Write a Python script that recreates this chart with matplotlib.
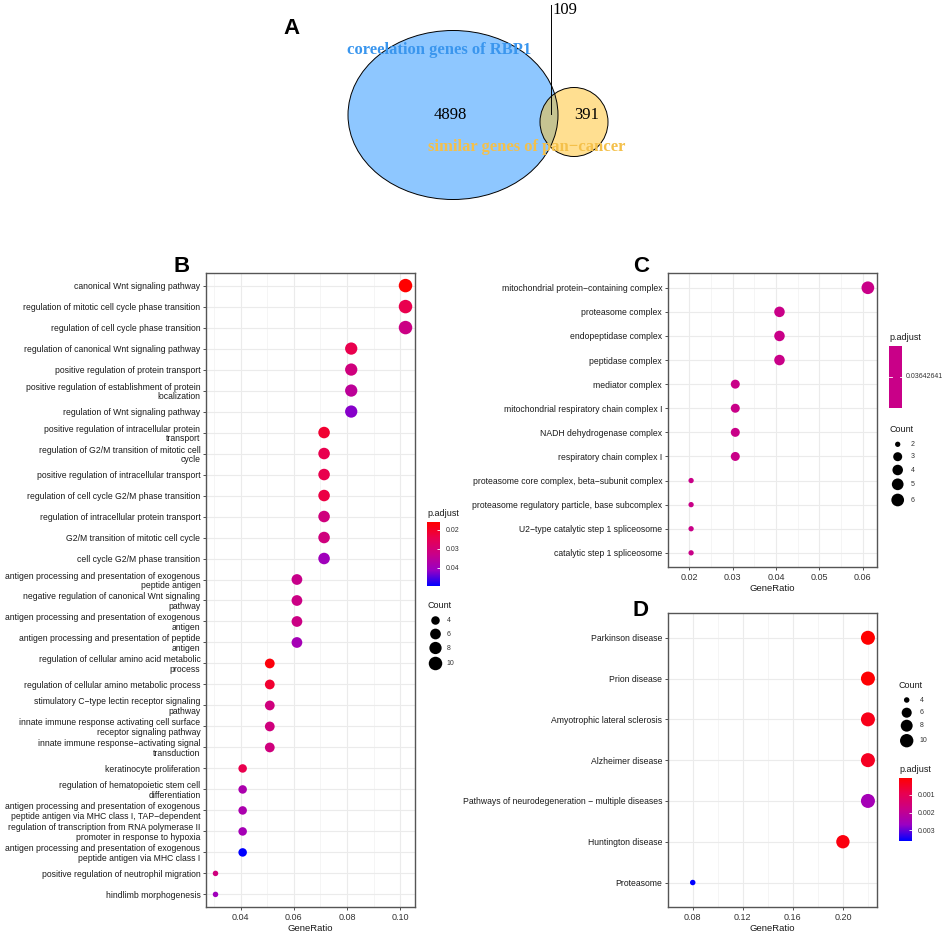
import numpy as np
import matplotlib
matplotlib.use('Agg')
import matplotlib.pyplot as plt
from matplotlib.colors import LinearSegmentedColormap, Normalize
from matplotlib.cm import ScalarMappable
from matplotlib.patches import Ellipse, Rectangle

plt.rcParams['font.family'] = ['Liberation Sans', 'DejaVu Sans']

W, H = 945, 934

# ---- Panel A: Venn ----
venn_left_only = 4898
venn_both = 109
venn_right_only = 391
venn_left_name = 'coreelation genes of RBP1'
venn_right_name = 'similar genes of pan\u2212cancer'

# ---- Panel B: GO biological process ----
bp_terms = [
    'canonical Wnt signaling pathway',
    'regulation of mitotic cell cycle phase transition',
    'regulation of cell cycle phase transition',
    'regulation of canonical Wnt signaling pathway',
    'positive regulation of protein transport',
    'positive regulation of establishment of protein\nlocalization',
    'regulation of Wnt signaling pathway',
    'positive regulation of intracellular protein\ntransport',
    'regulation of G2/M transition of mitotic cell\ncycle',
    'positive regulation of intracellular transport',
    'regulation of cell cycle G2/M phase transition',
    'regulation of intracellular protein transport',
    'G2/M transition of mitotic cell cycle',
    'cell cycle G2/M phase transition',
    'antigen processing and presentation of exogenous\npeptide antigen',
    'negative regulation of canonical Wnt signaling\npathway',
    'antigen processing and presentation of exogenous\nantigen',
    'antigen processing and presentation of peptide\nantigen',
    'regulation of cellular amino acid metabolic\nprocess',
    'regulation of cellular amino metabolic process',
    'stimulatory C\u2212type lectin receptor signaling\npathway',
    'innate immune response activating cell surface\nreceptor signaling pathway',
    'innate immune response\u2212activating signal\ntransduction',
    'keratinocyte proliferation',
    'regulation of hematopoietic stem cell\ndifferentiation',
    'antigen processing and presentation of exogenous\npeptide antigen via MHC class I, TAP\u2212dependent',
    'regulation of transcription from RNA polymerase II\npromoter in response to hypoxia',
    'antigen processing and presentation of exogenous\npeptide antigen via MHC class I',
    'positive regulation of neutrophil migration',
    'hindlimb morphogenesis',
]
bp_ratio = [0.102, 0.102, 0.102, 0.0816, 0.0816, 0.0816, 0.0816,
            0.0714, 0.0714, 0.0714, 0.0714, 0.0714, 0.0714, 0.0714,
            0.0612, 0.0612, 0.0612, 0.0612,
            0.051, 0.051, 0.051, 0.051, 0.051,
            0.0408, 0.0408, 0.0408, 0.0408, 0.0408,
            0.0306, 0.0306]
bp_count = [10, 10, 10, 8, 8, 8, 8, 7, 7, 7, 7, 7, 7, 7,
            6, 6, 6, 6, 5, 5, 5, 5, 5, 4, 4, 4, 4, 4, 3, 3]
bp_padj = [0.0158, 0.024, 0.032, 0.024, 0.031, 0.035, 0.042,
           0.021, 0.024, 0.024, 0.023, 0.031, 0.031, 0.040,
           0.033, 0.032, 0.032, 0.039,
           0.017, 0.021, 0.031, 0.031, 0.031,
           0.024, 0.038, 0.038, 0.039, 0.0495,
           0.031, 0.040]
bp_xticks = [0.04, 0.06, 0.08, 0.10]
bp_count_keys = [4, 6, 8, 10]
bp_padj_ticks = [0.02, 0.03, 0.04]

# ---- Panel C: GO cellular component ----
cc_terms = [
    'mitochondrial protein\u2212containing complex',
    'proteasome complex',
    'endopeptidase complex',
    'peptidase complex',
    'mediator complex',
    'mitochondrial respiratory chain complex I',
    'NADH dehydrogenase complex',
    'respiratory chain complex I',
    'proteasome core complex, beta\u2212subunit complex',
    'proteasome regulatory particle, base subcomplex',
    'U2\u2212type catalytic step 1 spliceosome',
    'catalytic step 1 spliceosome',
]
cc_ratio = [0.0612, 0.0408, 0.0408, 0.0408, 0.0306, 0.0306, 0.0306, 0.0306,
            0.0204, 0.0204, 0.0204, 0.0204]
cc_count = [6, 4, 4, 4, 3, 3, 3, 3, 2, 2, 2, 2]
cc_padj_value = 0.03642641
cc_xticks = [0.02, 0.03, 0.04, 0.05, 0.06]
cc_count_keys = [2, 3, 4, 5, 6]

# ---- Panel D: KEGG ----
kegg_terms = [
    'Parkinson disease',
    'Prion disease',
    'Amyotrophic lateral sclerosis',
    'Alzheimer disease',
    'Pathways of neurodegeneration \u2212 multiple diseases',
    'Huntington disease',
    'Proteasome',
]
kegg_ratio = [0.22, 0.22, 0.22, 0.22, 0.22, 0.20, 0.08]
kegg_count = [11, 11, 11, 11, 11, 10, 4]
kegg_padj = [0.00002, 0.00005, 0.0003, 0.0004, 0.0025, 0.0002, 0.0036]
kegg_xticks = [0.08, 0.12, 0.16, 0.20]
kegg_count_keys = [4, 6, 8, 10]
kegg_padj_ticks = [0.001, 0.002, 0.003]

# red -> blue gradient (Lab-like, as ggplot)
cmap = LinearSegmentedColormap.from_list(
    'padj', ['#FF0000', '#E80050', '#C90088', '#9A00C3', '#0000FF'])

fig = plt.figure(figsize=(W / 100, H / 100), dpi=100)


def px_rect(x0, y0, x1, y1):
    return [x0 / W, 1 - y1 / H, (x1 - x0) / W, (y1 - y0) / H]


# overlay in pixel coordinates for venn, panel letters and legends
ov = fig.add_axes([0, 0, 1, 1], zorder=5)
ov.set_xlim(0, W)
ov.set_ylim(H, 0)
ov.axis('off')


def size_fn(counts, cmin, cmax, dmin, dmax):
    c = np.asarray(counts, dtype=float)
    d = dmin + (dmax - dmin) * np.sqrt((c - cmin) / (cmax - cmin))
    return (d * 0.72) ** 2


def dotplot(rect, terms, ratio, count, colors, xticks, sizes, fmt):
    ax = fig.add_axes(px_rect(*rect))
    n = len(terms)
    y = np.arange(n)
    lo, hi = min(ratio), max(ratio)
    pad = 0.05 * (hi - lo)
    ax.set_xlim(lo - pad, hi + pad)
    ax.set_ylim(n - 1 + 0.6, -0.6)
    ax.set_axisbelow(True)
    ax.scatter(ratio, y, s=sizes, c=colors, linewidths=0, zorder=3)
    ax.set_yticks(y)
    ax.set_yticklabels(terms, fontsize=6.2, color='#1a1a1a', linespacing=1.12)
    ax.set_xticks(xticks)
    ax.set_xticklabels([fmt % t for t in xticks], fontsize=6.5, color='#333333')
    step = xticks[1] - xticks[0]
    minor = np.arange(xticks[0] - step / 2, hi + pad, step)
    ax.set_xticks(minor, minor=True)
    ax.grid(which='major', color='#EBEBEB', lw=0.8)
    ax.grid(which='minor', axis='x', color='#F2F2F2', lw=0.5)
    ax.tick_params(which='major', length=2.5, width=0.6, color='#333333', pad=1.5)
    ax.tick_params(which='minor', length=0)
    for sp in ax.spines.values():
        sp.set_color('#555555')
        sp.set_linewidth(1.0)
    ax.set_xlabel('GeneRatio', fontsize=6.8, color='#1a1a1a', labelpad=1.5)
    return ax


def size_legend(x, y_title, ys, keys, sizes, label_dx):
    ov.text(x - 8, y_title, 'Count', fontsize=6.5, ha='left', va='center', color='#1a1a1a')
    ov.scatter([x] * len(keys), ys, s=sizes, c='black', linewidths=0)
    for yy, k in zip(ys, keys):
        ov.text(x + label_dx, yy, str(k), fontsize=5, ha='left', va='center', color='#333333')


def colorbar(rect, norm, ticks, title):
    cax = fig.add_axes(px_rect(*rect))
    cb = fig.colorbar(ScalarMappable(norm=norm, cmap=cmap), cax=cax)
    cb.outline.set_visible(False)
    cax.invert_yaxis()
    cb.set_ticks(ticks)
    cb.set_ticklabels(['%g' % t for t in ticks])
    cax.tick_params(direction='in', length=2.5, width=0.6, color='white',
                    labelsize=5, labelcolor='#333333', pad=4)
    ov.text(rect[0], rect[1] - 8, title, fontsize=6.5, ha='left', va='center', color='#1a1a1a')
    return cb


# ---------------- Panel A ----------------
ov.add_patch(Ellipse((453, 115), 210, 169, facecolor='#1E90FF', alpha=0.5, edgecolor='none'))
ov.add_patch(Ellipse((574, 122), 68, 69, facecolor='#FFC125', alpha=0.5, edgecolor='none'))
ov.add_patch(Ellipse((453, 115), 210, 169, facecolor='none', edgecolor='black', lw=0.7))
ov.add_patch(Ellipse((574, 122), 68, 69, facecolor='none', edgecolor='black', lw=0.7))
ov.text(450, 115, str(venn_left_only), fontsize=12, family='Liberation Serif', ha='center', va='center')
ov.text(587, 115, str(venn_right_only), fontsize=12, family='Liberation Serif', ha='center', va='center')
ov.plot([551, 551], [5, 114], color='black', lw=0.7)
ov.text(552, 10, str(venn_both), fontsize=12, family='Liberation Serif', ha='left', va='center')
ov.text(439, 50, venn_left_name, fontsize=12, family='Liberation Serif', weight='bold',
        color='#3A96EE', ha='center', va='center')
ov.text(527, 147, venn_right_name, fontsize=12, family='Liberation Serif', weight='bold',
        color='#F4C04A', ha='center', va='center')

# panel letters
for lab, (lx, ly) in {'A': (292, 29), 'B': (182, 266), 'C': (641, 266), 'D': (641, 610)}.items():
    ov.text(lx, ly, lab, fontsize=16, weight='bold', ha='center', va='center')

# ---------------- Panel B ----------------
bp_norm = Normalize(min(bp_padj), max(bp_padj))
bp_sizes = size_fn(bp_count, min(bp_count), max(bp_count), 5.5, 13.5)
dotplot((206, 273, 415, 907), bp_terms, bp_ratio, bp_count,
        cmap(bp_norm(bp_padj)), bp_xticks, bp_sizes, '%.2f')
colorbar((427, 522, 440, 586), bp_norm, bp_padj_ticks, 'p.adjust')
size_legend(435.5, 606, [620.5, 634, 648, 663.5], bp_count_keys,
            size_fn(bp_count_keys, min(bp_count), max(bp_count), 5.5, 13.5), 11)

# ---------------- Panel C ----------------
cc_color = cmap(0.5)
cc_sizes = size_fn(cc_count, min(cc_count), max(cc_count), 5.3, 12.7)
dotplot((667.7, 273.3, 876.7, 567.3), cc_terms, cc_ratio, cc_count,
        [cc_color] * len(cc_terms), cc_xticks, cc_sizes, '%.2f')
ov.add_patch(Rectangle((889, 346), 13, 62, facecolor=cc_color, edgecolor='none'))
ov.plot([889, 891.5], [377, 377], color='white', lw=0.6)
ov.plot([899.5, 902], [377, 377], color='white', lw=0.6)
ov.text(906, 377, '%.8f' % cc_padj_value, fontsize=5, ha='left', va='center', color='#333333')
ov.text(889, 338, 'p.adjust', fontsize=6.5, ha='left', va='center', color='#1a1a1a')
size_legend(897.7, 430, [444.3, 456.7, 470, 484.3, 500], cc_count_keys,
            size_fn(cc_count_keys, min(cc_count), max(cc_count), 5.3, 12.7), 13)

# ---------------- Panel D ----------------
kegg_norm = Normalize(min(kegg_padj), max(kegg_padj))
kegg_sizes = size_fn(kegg_count, min(kegg_count), max(kegg_count), 5.5, 14)
dotplot((667.7, 613.3, 876.7, 907), kegg_terms, kegg_ratio, kegg_count,
        cmap(kegg_norm(kegg_padj)), kegg_xticks, kegg_sizes, '%.2f')
size_legend(906.7, 686, [700, 712.7, 725.7, 740.7], kegg_count_keys,
            size_fn(kegg_count_keys, min(kegg_count), max(kegg_count), 5.5, 14), 13)
colorbar((899, 777.7, 911.7, 840.7), kegg_norm, kegg_padj_ticks, 'p.adjust')

fig.savefig('out.png', dpi=100)
